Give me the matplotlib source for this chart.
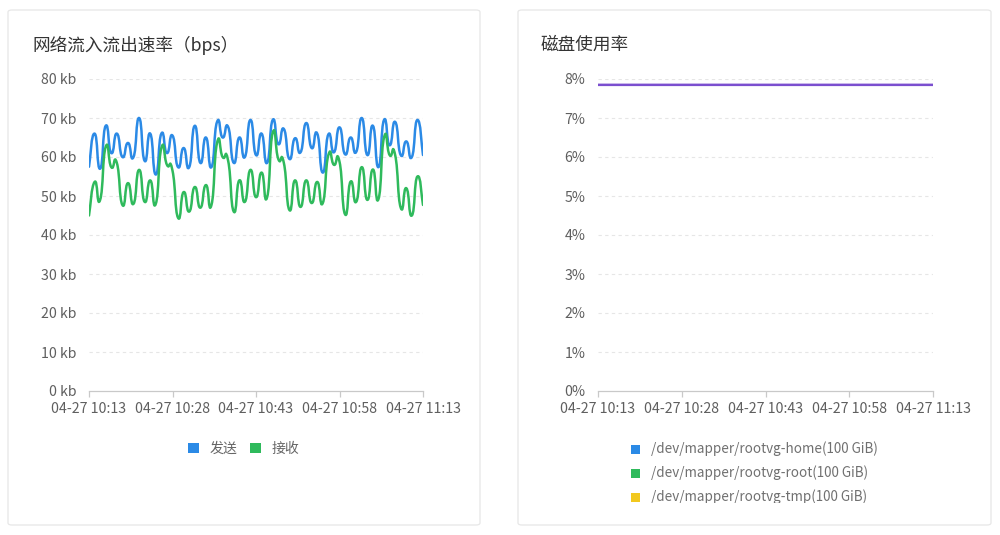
import matplotlib
matplotlib.use("Agg")
import matplotlib.pyplot as plt
from matplotlib.path import Path
from matplotlib.patches import PathPatch, Rectangle, FancyBboxPatch, Patch
import numpy as np

plt.rcParams['font.family'] = ['Noto Sans CJK SC', 'DejaVu Sans']

# ---------------- data ----------------
time_labels = ["04-27 10:13", "04-27 10:28", "04-27 10:43", "04-27 10:58", "04-27 11:13"]
minutes = list(range(61))  # one sample per minute, 10:13 .. 11:13

send_kb = [57.5, 66, 57, 68, 61, 66, 60, 63.6, 60, 70, 59, 66, 55.5, 66, 61, 65.5,
           57.4, 62.3, 57.4, 68, 58.5, 65, 57.4, 69, 65, 67.7, 58.5, 65, 60, 69.5,
           60.5, 66, 58.5, 69.5, 63.3, 67.2, 59.5, 64.8, 61.2, 68.7, 62.3, 66, 56,
           65.8, 61.2, 67.6, 60.7, 65, 61.3, 70, 60.5, 68, 57.4, 69.5, 63, 69, 60.5,
           64, 60, 69.5, 60.5]
recv_kb = [45, 53.6, 49, 62.6, 57.4, 58.5, 47.7, 53.3, 48, 56.7, 48.5, 54, 48, 62.3,
           58, 56.5, 44.4, 51, 46, 52.3, 47, 52.8, 47.7, 63.6, 60, 59, 46, 54, 48.5,
           56.7, 49.7, 56, 49.7, 66.2, 59.5, 58.5, 46.4, 54, 47.2, 54, 48.2, 53.6,
           48.2, 60.5, 58, 58.8, 45.3, 53.7, 48.5, 57.4, 49, 56.8, 49.2, 65, 60.5,
           60.5, 47, 52, 45, 55, 47.7]
net_series = ["发送", "接收"]
net_colors = ["#2b8ae6", "#2fba5c"]
net_yticks = [0, 10, 20, 30, 40, 50, 60, 70, 80]

disk_names = ["/dev/mapper/rootvg-home(100 GiB)",
              "/dev/mapper/rootvg-root(100 GiB)",
              "/dev/mapper/rootvg-tmp(100 GiB)"]
disk_legend_colors = ["#2b8ae6", "#2fba5c", "#f2c81e"]
disk_usage_pct = [7.85] * 61
disk_line_color = "#7b4fcf"
disk_yticks = [0, 1, 2, 3, 4, 5, 6, 7, 8]

W, H = 1000, 535
fig = plt.figure(figsize=(W / 100, H / 100), dpi=100)
fig.patch.set_facecolor("white")


def fx(px):
    return px / W


def fy(py):
    return 1 - py / H


# cards
for x0, x1 in [(8, 480), (518, 991)]:
    card = FancyBboxPatch((fx(x0), fy(525)), fx(x1 - x0), (525 - 10) / H,
                          boxstyle="round,pad=0,rounding_size=0.004",
                          transform=fig.transFigure, facecolor="white",
                          edgecolor="#e7e7e7", linewidth=0.9, zorder=-5)
    fig.patches.append(card)


def smooth_path(xs, ys, s=0.6):
    pts = np.column_stack([xs, ys]).astype(float)
    n = len(pts)
    verts = [pts[0]]
    codes = [Path.MOVETO]
    for i in range(n - 1):
        p0 = pts[max(i - 1, 0)]
        p1 = pts[i]
        p2 = pts[i + 1]
        p3 = pts[min(i + 2, n - 1)]
        c1 = p1 + (p2 - p0) * s * 0.5
        c2 = p2 - (p3 - p1) * s * 0.5
        verts += [c1, c2, p2]
        codes += [Path.CURVE4] * 3
    return Path(verts, codes)


TICK_FS = 10.2


def style_axes(ax, yticks, fmt):
    ax.set_zorder(5)
    ax.set_xlim(0, 60)
    ax.set_ylim(yticks[0], yticks[-1])
    ax.set_xticks([0, 15, 30, 45, 60])
    ax.set_xticklabels(time_labels)
    ax.set_yticks(yticks)
    ax.set_yticklabels([fmt(v) for v in yticks])
    for side in ["top", "right", "left"]:
        ax.spines[side].set_visible(False)
    ax.spines["bottom"].set_color("#c9c9c9")
    ax.spines["bottom"].set_linewidth(0.9)
    ax.tick_params(axis="x", colors="#c9c9c9", labelcolor="#5f5f5f", length=4,
                   width=0.9, pad=4, labelsize=TICK_FS)
    ax.tick_params(axis="y", length=0, pad=9, labelcolor="#5f5f5f", labelsize=TICK_FS)
    for v in yticks[1:]:
        ax.axhline(v, color="#e6e6e6", lw=0.8, ls=(0, (3, 3)), zorder=0)
    ax.set_facecolor("none")


# ---------------- left chart ----------------
axL = fig.add_axes([fx(89), fy(391), fx(423 - 89), (391 - 79) / H])
style_axes(axL, net_yticks, lambda v: f"{v} kb")
for vals, col in zip([send_kb, recv_kb], net_colors):
    axL.add_patch(PathPatch(smooth_path(minutes, vals), facecolor="none",
                            edgecolor=col, lw=1.8, zorder=3, capstyle="round",
                            joinstyle="round"))
fig.text(fx(32), fy(45), "网络流入流出速率（bps）", fontsize=12.7, color="#333333",
         va="center", ha="left")
handles = [Patch(facecolor=c, edgecolor="none") for c in net_colors]
axL.legend(handles, net_series, loc="center", bbox_to_anchor=(fx(244), fy(449)),
           bbox_transform=fig.transFigure, ncol=2, frameon=False,
           handlelength=0.75, handleheight=0.75, handletextpad=0.8,
           columnspacing=0.9, fontsize=10, labelcolor="#666666")

# ---------------- right chart ----------------
axR = fig.add_axes([fx(598), fy(391), fx(933 - 598), (391 - 79) / H])
style_axes(axR, disk_yticks, lambda v: f"{v}%")
axR.add_patch(PathPatch(smooth_path(minutes, disk_usage_pct), facecolor="none",
                        edgecolor=disk_line_color, lw=1.8, zorder=3))
fig.text(fx(541), fy(45), "磁盘使用率", fontsize=12.7, color="#333333",
         va="center", ha="left")

clip = Rectangle((0, fy(503)), 1, fy(438) - fy(503), transform=fig.transFigure,
                 facecolor="none", edgecolor="none")
fig.patches.append(clip)
for k, (name, col) in enumerate(zip(disk_names, disk_legend_colors)):
    yc = 449 + 24 * k
    sq = Rectangle((fx(631), fy(yc + 4.5)), fx(9), 9 / H, transform=fig.transFigure,
                   facecolor=col, edgecolor="none")
    fig.patches.append(sq)
    sq.set_clip_path(clip)
    t = fig.text(fx(651), fy(yc), name, fontsize=9.7, color="#707070",
                 va="center", ha="left")
    t.set_clip_path(clip)

fig.savefig("out.png", dpi=100, facecolor="white")
